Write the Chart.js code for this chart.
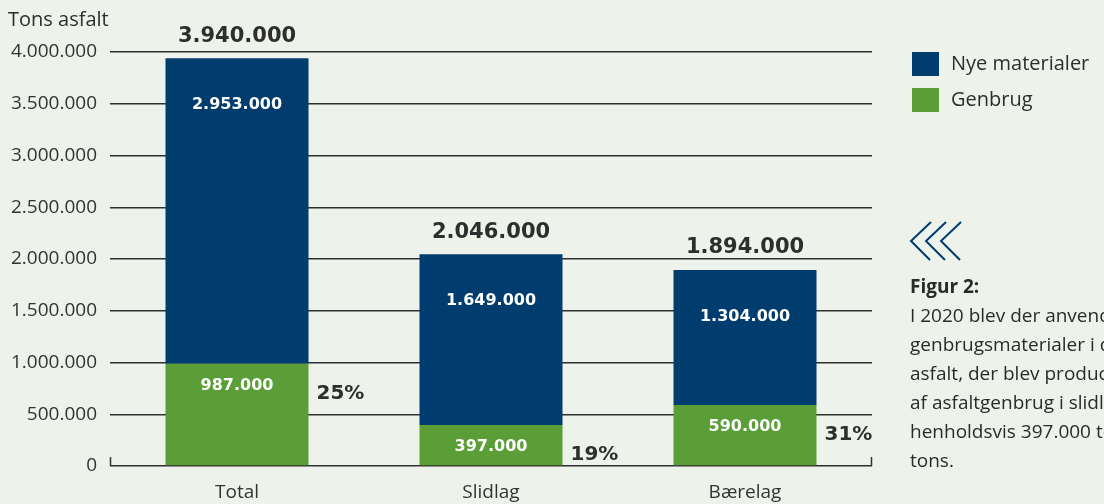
<!DOCTYPE html>
<html>
<head>
<meta charset="utf-8">
<script src="https://cdn.jsdelivr.net/npm/chart.js@4.4.1/dist/chart.umd.min.js"></script>
<style>
  html, body { margin: 0; padding: 0; background: #edf3eb; }
  #wrap { width: 1104px; height: 504px; position: relative; }
</style>
</head>
<body>
<div id="wrap"><canvas id="chart" width="1104" height="504"></canvas></div>
<script>
// data
const categories = ['Total', 'Slidlag', 'Bærelag'];
const nyeMaterialer = [2953000, 1649000, 1304000];
const genbrug = [987000, 397000, 590000];
const totals = [3940000, 2046000, 1894000];
const genbrugPct = [25, 19, 31];
const yMax = 4000000;
const yStep = 500000;

const NAVY = '#013c6f';
const GREEN = '#5b9e38';
const TEXT = '#2e2e2e';

const figurTitle = 'Figur 2:';
const figurLines = [
  'I 2020 blev der anvendt 987.000 tons',
  'genbrugsmaterialer i de 3.940.000 tons',
  'asfalt, der blev produceret. Andelen',
  'af asfaltgenbrug i slidlag og bærelag var',
  'henholdsvis 397.000 tons og 590.000',
  'tons.'
];

function fmt(n) {
  return String(n).replace(/\B(?=(\d{3})+(?!\d))/g, '.');
}

const labelsPlugin = {
  id: 'labels',
  afterDatasetsDraw(chart) {
    const ctx = chart.ctx;
    const greenMeta = chart.getDatasetMeta(0);
    const navyMeta = chart.getDatasetMeta(1);
    const area = chart.chartArea;
    ctx.save();
    ctx.textBaseline = 'middle';

    categories.forEach((c, i) => {
      const nb = navyMeta.data[i];
      const gb = greenMeta.data[i];
      const half = nb.width / 2;

      // total above bar
      ctx.fillStyle = TEXT;
      ctx.textAlign = 'center';
      ctx.font = 'bold 21px "DejaVu Sans"';
      ctx.fillText(fmt(totals[i]), nb.x, nb.y - 22);

      // values inside
      ctx.fillStyle = '#ffffff';
      ctx.font = 'bold 16px "DejaVu Sans"';
      ctx.fillText(fmt(nyeMaterialer[i]), nb.x, nb.y + 47);
      ctx.fillText(fmt(genbrug[i]), gb.x, gb.y + 22);

      // share of recycling
      ctx.fillStyle = TEXT;
      ctx.textAlign = 'left';
      ctx.font = 'bold 20px "DejaVu Sans"';
      ctx.fillText(genbrugPct[i] + '%', gb.x + half + 8, gb.y + 30);
    });

    // little end ticks on the zero line
    const y0 = chart.scales.y.getPixelForValue(0);
    ctx.strokeStyle = '#333';
    ctx.lineWidth = 1.5;
    ctx.beginPath();
    ctx.moveTo(area.left + 0.5, y0);
    ctx.lineTo(area.left + 0.5, y0 - 9);
    ctx.moveTo(area.right - 0.5, y0);
    ctx.lineTo(area.right - 0.5, y0 - 9);
    ctx.stroke();

    // axis title
    ctx.fillStyle = TEXT;
    ctx.textAlign = 'left';
    ctx.font = '20px "Open Sans"';
    ctx.fillText('Tons asfalt', 8, 20);

    // legend (navy first, as in the figure)
    const legendOrder = [1, 0];
    legendOrder.forEach((di, k) => {
      const ds = chart.data.datasets[di];
      const ly = 52 + k * 36;
      ctx.fillStyle = ds.backgroundColor;
      ctx.fillRect(912, ly, 27, 24);
      ctx.fillStyle = TEXT;
      ctx.font = '20px "Open Sans"';
      ctx.fillText(ds.label, 951, ly + 12);
    });

    // chevrons
    ctx.strokeStyle = NAVY;
    ctx.lineWidth = 2;
    [911, 926, 941].forEach(tx => {
      ctx.beginPath();
      ctx.moveTo(tx + 20, 222);
      ctx.lineTo(tx, 241);
      ctx.lineTo(tx + 19, 260);
      ctx.stroke();
    });

    // caption
    ctx.fillStyle = '#2a2a2a';
    ctx.font = 'bold 19px "Open Sans"';
    ctx.fillText(figurTitle, 910, 288);
    ctx.font = '19px "Open Sans"';
    figurLines.forEach((t, i) => ctx.fillText(t, 910, 317 + i * 29));
    ctx.restore();
  }
};

const bgPlugin = {
  id: 'bg',
  beforeDraw(chart) {
    const ctx = chart.ctx;
    ctx.save();
    ctx.fillStyle = '#edf3eb';
    ctx.fillRect(0, 0, chart.width, chart.height);
    ctx.restore();
  }
};

new Chart(document.getElementById('chart'), {
  type: 'bar',
  data: {
    labels: categories,
    datasets: [
      { label: 'Genbrug', data: genbrug, backgroundColor: GREEN },
      { label: 'Nye materialer', data: nyeMaterialer, backgroundColor: NAVY }
    ]
  },
  options: {
    responsive: false,
    animation: false,
    layout: { padding: { top: 52, right: 232, left: 0, bottom: 0 } },
    datasets: {
      bar: { categoryPercentage: 1, barPercentage: 0.563, borderWidth: 0 }
    },
    plugins: {
      legend: { display: false },
      tooltip: { enabled: false }
    },
    scales: {
      x: {
        stacked: true,
        grid: { display: false },
        border: { display: false },
        ticks: { color: '#333', font: { family: 'Open Sans', size: 19 }, padding: 7 },
        afterFit(scale) { scale.height = 38; }
      },
      y: {
        stacked: true,
        min: 0,
        max: yMax,
        position: 'left',
        grid: { color: '#2f2f2f', lineWidth: 1.5, drawTicks: false },
        border: { display: false },
        ticks: {
          stepSize: yStep,
          color: '#333',
          padding: 13,
          font: { family: 'Open Sans', size: 19 },
          callback: v => fmt(v)
        },
        afterFit(scale) { scale.width = 110; }
      }
    }
  },
  plugins: [bgPlugin, labelsPlugin]
});
</script>
</body>
</html>
